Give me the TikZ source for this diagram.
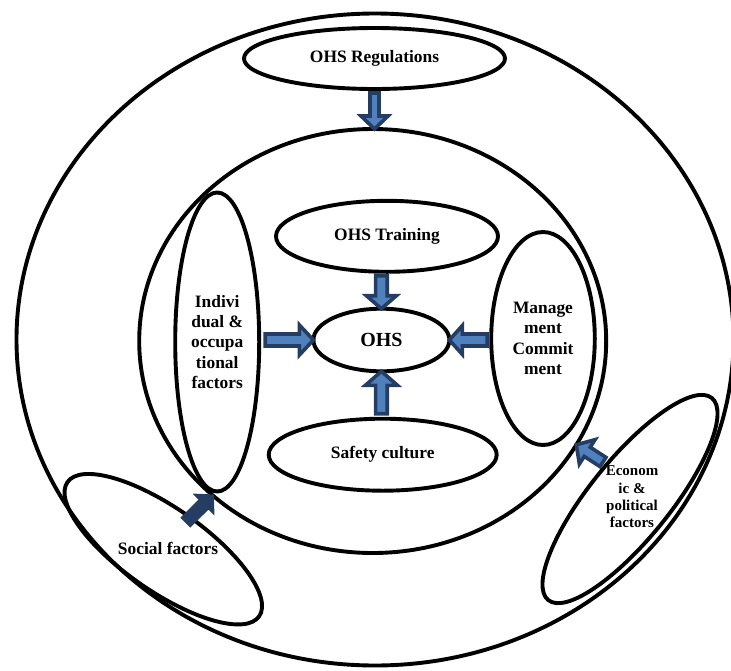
\documentclass[tikz,border=0pt]{standalone}
\usepackage{fontspec}
\setmainfont{Liberation Serif}
\usetikzlibrary{shapes.geometric,calc}
\definecolor{arrdark}{HTML}{253D63}
\definecolor{arrlight}{HTML}{4F81BD}
% #1 style, #2 tail, #3 tip, #4 shaft half-width, #5 head half-width, #6 head length
\newcommand\blockarrow[6]{%
  \coordinate (ba-h) at ($(#3)!#6pt!(#2)$);
  \filldraw[#1] ($(#2)!#4pt!90:(#3)$) -- ($(ba-h)!#4pt!-90:(#2)$) -- ($(ba-h)!#5pt!-90:(#2)$) -- (#3)
    -- ($(ba-h)!#5pt!90:(#2)$) -- ($(ba-h)!#4pt!90:(#2)$) -- ($(#2)!#4pt!-90:(#3)$) -- cycle;
}
\begin{document}
\begin{tikzpicture}[x=1pt,y=-1pt,
  ell/.style={draw, line width=3.9pt, ellipse, inner sep=0pt, outer sep=0pt},
  lbl/.style={font=\fontsize{17.4}{20.3}\selectfont\bfseries, align=center, inner sep=0pt},
  barrow/.style={draw=arrdark, fill=arrlight, line width=3.6pt},
  barrowdark/.style={draw=arrdark, fill=arrdark, line width=2pt}]
\useasboundingbox (0,0) rectangle (731,670);
\clip (0,0) rectangle (731,670);
% big ellipses
\node[ell, minimum width=717pt, minimum height=652pt] (outer) at (375,339.5) {};
\node[ell, minimum width=467pt, minimum height=424pt] (inner) at (372.7,341) {};
% outer factors
\node[ell, lbl, minimum width=261pt, minimum height=61pt] (reg) at (374.5,58.5) {OHS Regulations};
\node[ell, minimum width=234pt, minimum height=83pt, rotate=-35] (social) at (163.3,549.2) {};
\node[lbl] (socialtxt) at (168,548) {Social factors};
\node[ell, minimum width=260pt, minimum height=80pt, rotate=51] (econ) at (630,499) {};
\node[lbl, font=\fontsize{15}{17.4}\selectfont\bfseries] (econtxt) at (632,497) {Econom\\ic \&\\political\\factors};
% inner factors
\node[ell, lbl, minimum width=222pt, minimum height=71pt] (train) at (387,236.3) {OHS Training};
\node[ell, lbl, minimum width=228pt, minimum height=72pt] (safety) at (382.7,454.7) {Safety culture};
\node[ell, lbl, minimum width=84pt, minimum height=299pt] (ind) at (217.2,342) {Indivi\\dual \&\\occupa\\tional\\factors};
\node[ell, lbl, minimum width=103.6pt, minimum height=213pt] (mgmt) at (543,338.5) {Manage\\ment\\Commit\\ment};
\node[ell, lbl, font=\fontsize{20}{24}\selectfont\bfseries, minimum width=136pt, minimum height=62.6pt] (ohs) at (381.4,340) {OHS};
% arrow end points
\coordinate (a1t) at ($(reg.south)+(0,4)$);
\coordinate (a1h) at (reg.south |- inner.north);
\coordinate (a2t) at ($(ohs.north |- train.south)+(0,4)$);
\coordinate (a3t) at ($(ohs.south |- safety.north)+(0,-5)$);
\coordinate (a4t) at ($(ind.east |- ohs.west)+(6,0)$);
\coordinate (a5t) at ($(mgmt.west |- ohs.east)+(-4,0)$);
\coordinate (a6t) at (186,522);
\coordinate (a7t) at (603,462);
% arrows
\blockarrow{barrow}{a1t}{a1h}{4.5}{13.5}{13}
\blockarrow{barrow}{a2t}{ohs.north}{5.8}{15}{13}
\blockarrow{barrow}{a3t}{ohs.south}{5.8}{16}{14}
\blockarrow{barrow}{a4t}{ohs.west}{6}{15}{14}
\blockarrow{barrow}{a5t}{ohs.east}{6}{14.5}{13}
\blockarrow{barrowdark}{a6t}{inner.224}{6}{13}{12}
\blockarrow{barrow}{a7t}{inner.-27}{5.5}{14.5}{13}
\end{tikzpicture}
\end{document}
